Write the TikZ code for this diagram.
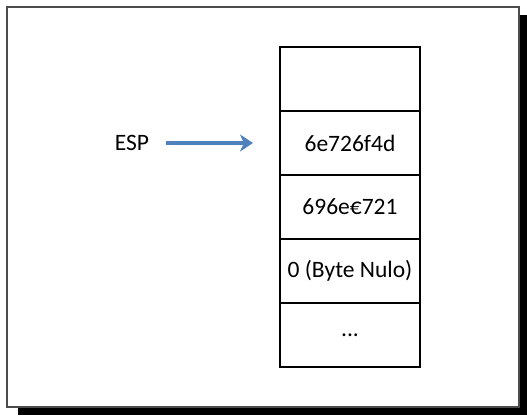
\documentclass[tikz,border=0pt]{standalone}
\usepackage{fontspec}
\setmainfont{Carlito}
\usetikzlibrary{arrows.meta,positioning}
\definecolor{espblue}{HTML}{4F81BD}

\begin{document}
\begin{tikzpicture}[x=1pt,y=-1pt,>={Stealth[length=13pt,width=17pt,inset=4pt]},
  cell/.style={draw,line width=1.4pt,minimum width=140pt,minimum height=64pt,
    inner sep=0pt,outer sep=0pt,font=\fontsize{23.5}{26}\selectfont}]
  \useasboundingbox (0,0) rectangle (527,415);
  % frame with shadow
  \fill[black] (18,15) rectangle (527,415);
  \draw[gray!60!black,line width=1.5pt,fill=white] (7,7) rectangle (519,407);
  % stack
  \node[cell] (top) at (350,79) {};
  \node[cell,below=0pt of top] (w1) {6e726f4d};
  \node[cell,below=0pt of w1] (w2) {696e€721};
  \node[cell,below=0pt of w2] (nul) {0 (Byte Nulo)};
  \node[cell,below=0pt of nul] (dots) {...};
  \draw[line width=2.6pt] (top.north west) rectangle (dots.south east);
  % pointer
  \node[inner sep=0pt,font=\fontsize{23.5}{26}\selectfont] (esp) at (132,143) {ESP};
  \draw[->,espblue,line width=3.2pt,shorten <=17pt,shorten >=27pt] (esp.east) -- (w1.west);
\end{tikzpicture}
\end{document}
